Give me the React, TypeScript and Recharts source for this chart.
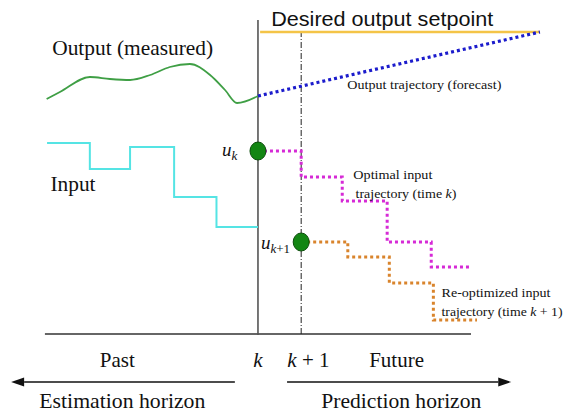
import React from "react";
import {
  ComposedChart,
  Line,
  Scatter,
  XAxis,
  YAxis,
  ReferenceLine,
  ReferenceDot,
} from "recharts";

// time axis: 0 = step k, 1 = step k+1 ; level axis: 0 = time baseline
const outputT = [-4.94, -4.63, -3.93, -3.46, -2.99, -2.52, -2.06, -1.59, -1.12, -0.77, -0.49, 0];
const outputV = [23.5, 24.2, 25.7, 25.5, 25.4, 25.9, 26.7, 27.0, 25.9, 24.4, 23.1, 23.8];

const forecastT = [0, 6.59];
const forecastV = [23.8, 30.2];

const setpointT = [0.05, 6.59];
const setpointV = [30.2, 30.2];

const inputT = [-4.93, -3.93, -2.99, -1.96, -0.97, 0];
const inputV = [19.1, 16.5, 18.7, 13.7, 10.7, 10.7];

const planT = [0, 1.01, 1.97, 3.02, 4.05, 4.96];
const planV = [18.3, 15.7, 13.3, 9.2, 6.7, 6.7];

const replanT = [1.01, 2.1, 3.07, 4.1, 5.12];
const replanV = [9.2, 7.7, 5.1, 1.4, 1.4];

const movesT = [0, 1.01];
const movesV = [18.3, 9.2];

const zip = (t: number[], v: number[]) => t.map((x, i) => ({ t: x, v: v[i] }));

const COLORS = {
  output: "#3f9f45",
  forecast: "#1c1ccc",
  setpoint: "#f4c447",
  input: "#55e4e4",
  plan: "#d62ad6",
  replan: "#d9842c",
  dot: "#138613",
  dotEdge: "#0b4d0b",
  axis: "#333333",
};

const SERIF = '"Liberation Serif", "Times New Roman", serif';
const SANS = '"Liberation Sans", Arial, sans-serif';

type NoteProps = {
  t: number;
  v: number;
  anchor?: "start" | "middle" | "end";
  size: number;
  font?: string;
  width?: number;
  children: React.ReactNode;
};

function Note({ t, v, anchor = "start", size, font = SERIF, width, children }: NoteProps) {
  return (
    <ReferenceDot
      x={t}
      y={v}
      r={1}
      ifOverflow="visible"
      shape={(p: any) => (
        <text
          x={p.cx}
          y={p.cy}
          textAnchor={anchor}
          style={{ fontFamily: font, fontSize: size, fill: "#111" }}
          textLength={width}
          lengthAdjust={width ? "spacingAndGlyphs" : undefined}
        >
          {children}
        </text>
      )}
    />
  );
}

function Arrow(props: any) {
  const { x1, y1, x2, y2 } = props;
  const dir = Math.sign(x2 - x1);
  const head = 13;
  return (
    <g>
      <line x1={x1} y1={y1} x2={x2 - dir * head} y2={y2} stroke="#111" strokeWidth={1.5} />
      <polygon
        points={`${x2},${y2} ${x2 - dir * head},${y2 - 4.5} ${x2 - dir * head},${y2 + 4.5}`}
        fill="#111"
      />
    </g>
  );
}

const lineCommon = {
  dataKey: "v",
  dot: false,
  activeDot: false,
  isAnimationActive: false,
} as const;

export default function App() {
  return (
    <div style={{ position: "absolute", left: 0, top: 0, background: "#fff" }}>
      <ComposedChart width={563} height={412} margin={{ top: 0, right: 0, bottom: 0, left: 0 }}>
        <XAxis type="number" dataKey="t" domain={[-6.03, 7.13]} allowDataOverflow hide />
        <YAxis type="number" dataKey="v" domain={[-7.8, 33.4]} allowDataOverflow hide />

        {/* time baseline and the k / k+1 markers */}
        <ReferenceLine
          segment={[{ x: -4.98, y: 0 }, { x: 4.98, y: 0 }]}
          stroke={COLORS.axis}
          strokeWidth={1.5}
          ifOverflow="visible"
        />
        <ReferenceLine
          segment={[{ x: 0, y: -0.1 }, { x: 0, y: 31.4 }]}
          stroke="#555"
          strokeWidth={1.6}
          ifOverflow="visible"
        />
        <ReferenceLine
          segment={[{ x: 1.01, y: 0 }, { x: 1.01, y: 30.2 }]}
          stroke="#222"
          strokeWidth={1}
          strokeDasharray="6 2 1 2"
          ifOverflow="visible"
        />

        <Line {...lineCommon} data={zip(setpointT, setpointV)} type="linear" stroke={COLORS.setpoint} strokeWidth={2.5} />
        <Line {...lineCommon} data={zip(outputT, outputV)} type="monotone" stroke={COLORS.output} strokeWidth={1.8} />
        <Line
          {...lineCommon}
          data={zip(forecastT, forecastV)}
          type="linear"
          stroke={COLORS.forecast}
          strokeWidth={3.2}
          strokeDasharray="3 3"
        />
        <Line {...lineCommon} data={zip(inputT, inputV)} type="stepAfter" stroke={COLORS.input} strokeWidth={2} />
        <Line
          {...lineCommon}
          data={zip(planT, planV)}
          type="stepAfter"
          stroke={COLORS.plan}
          strokeWidth={3}
          strokeDasharray="3 3"
        />
        <Line
          {...lineCommon}
          data={zip(replanT, replanV)}
          type="stepAfter"
          stroke={COLORS.replan}
          strokeWidth={3}
          strokeDasharray="3 3"
        />
        <Scatter
          data={zip(movesT, movesV)}
          dataKey="v"
          isAnimationActive={false}
          shape={(p: any) => (
            <ellipse cx={p.cx} cy={p.cy} rx={8} ry={9} fill={COLORS.dot} stroke={COLORS.dotEdge} strokeWidth={1} />
          )}
        />

        {/* horizon arrows */}
        <ReferenceLine segment={[{ x: -0.54, y: -4.8 }, { x: -5.77, y: -4.8 }]} ifOverflow="visible" shape={Arrow} />
        <ReferenceLine segment={[{ x: 0.68, y: -4.8 }, { x: 5.92, y: -4.8 }]} ifOverflow="visible" shape={Arrow} />

        <Note t={0.31} v={30.8} size={20} font={SANS} width={222}>Desired output setpoint</Note>
        <Note t={-4.81} v={27.9} size={21} width={161}>Output (measured)</Note>
        <Note t={2.09} v={24.5} size={12.5} width={154}>Output trajectory (forecast)</Note>
        <Note t={-4.85} v={14.3} size={21} width={45}>Input</Note>
        <Note t={2.23} v={15.5} size={12.5} width={79}>Optimal input</Note>
        <Note t={2.28} v={13.6} size={12.5} width={101}>
          trajectory (time <tspan fontStyle="italic">k</tspan>)
        </Note>
        <Note t={4.29} v={3.7} size={12.5} width={109}>Re-optimized input</Note>
        <Note t={4.29} v={1.8} size={12.5} width={121}>
          trajectory (time <tspan fontStyle="italic">k</tspan> + 1)
        </Note>
        <Note t={-0.84} v={17.8} size={19}>
          <tspan fontStyle="italic">u</tspan>
          <tspan fontStyle="italic" fontSize={13} dy={4}>k</tspan>
        </Note>
        <Note t={0.07} v={8.5} size={19}>
          <tspan fontStyle="italic">u</tspan>
          <tspan fontSize={13} dy={4}>
            <tspan fontStyle="italic">k</tspan>+1
          </tspan>
        </Note>

        <Note t={-3.29} v={-3.3} size={21} anchor="middle">Past</Note>
        <Note t={0} v={-3.3} size={21} anchor="middle">
          <tspan fontStyle="italic">k</tspan>
        </Note>
        <Note t={1.18} v={-3.3} size={21} anchor="middle">
          <tspan fontStyle="italic">k</tspan> + 1
        </Note>
        <Note t={3.24} v={-3.3} size={21} anchor="middle">Future</Note>
        <Note t={-3.17} v={-7.4} size={21} anchor="middle" width={166}>Estimation horizon</Note>
        <Note t={3.35} v={-7.4} size={21} anchor="middle" width={160}>Prediction horizon</Note>
      </ComposedChart>
    </div>
  );
}
